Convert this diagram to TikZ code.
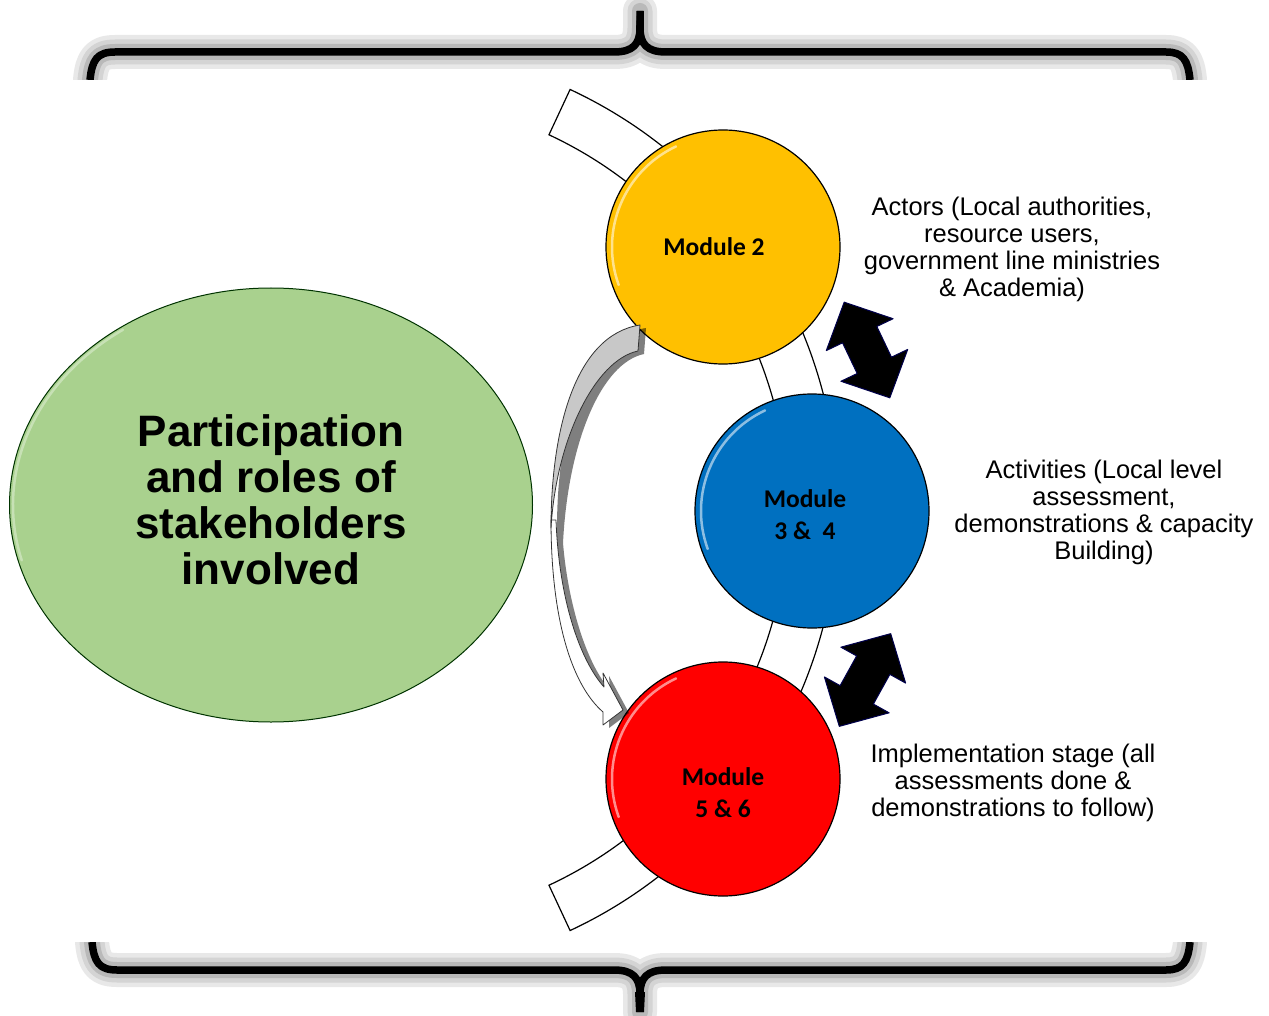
\documentclass[tikz,border=0pt]{standalone}
\usepackage{fontspec}
\setmainfont{Liberation Sans}
\newfontfamily\calibrifont{Carlito}
\usetikzlibrary{calc,shapes.geometric}
\definecolor{myyellow}{RGB}{255,192,0}
\definecolor{myblue}{RGB}{0,112,192}
\definecolor{myred}{RGB}{255,0,0}
\definecolor{mygreen}{RGB}{169,209,142}
\definecolor{arrowgray}{RGB}{200,200,200}
\tikzset{
  module/.style={circle, draw=black, line width=1.2pt, minimum size=234pt, inner sep=0pt},
  modtext/.style={align=center, inner sep=0pt, font=\calibrifont\bfseries\fontsize{25.5}{32}\selectfont},
  sidetext/.style={align=center, inner sep=0pt, font=\fontsize{25.5}{27}\selectfont},
  bandline/.style={draw=black, line width=1.2pt, fill=white},
  gloss/.style={white, opacity=.55, line width=2.5pt, line cap=round},
  dblarrow/.style={fill=black, draw=black!70!blue, line width=1pt, line join=round},
  halo1/.style={draw=gray!18, line width=34pt, line cap=round, line join=round},
  halo2/.style={draw=gray!34, line width=25pt, line cap=round, line join=round},
  halo3/.style={draw=gray!55, line width=16pt, line cap=round, line join=round},
  bracestroke/.style={draw=black, line width=7.5pt, line join=round},
}
\begin{document}
\begin{tikzpicture}[x=1pt, y=-1pt]
\useasboundingbox (0,0) rectangle (1269,1016);
\fill[white] (0,0) rectangle (1269,1016);

% ---------- braces ----------
\def\topbrace{(90,80) .. controls (92,60) and (97,52) .. (115,52) -- (614,52) .. controls (633,52) and (640,44) .. (640,28) -- (640,11)
  (640,28) .. controls (640,44) and (647,52) .. (666,52) -- (1166,52) .. controls (1183,52) and (1188,60) .. (1190,80)}
\def\botbrace{(92,942) .. controls (94,962) and (99,970) .. (117,970) -- (614,970) .. controls (633,970) and (640,978) .. (640,994) -- (640,1012)
  (640,994) .. controls (640,978) and (647,970) .. (666,970) -- (1166,970) .. controls (1183,970) and (1188,962) .. (1190,942)}
\begin{scope}
  \clip (0,0) rectangle (1269,80);
  \draw[halo1] \topbrace;
  \draw[halo2] \topbrace;
  \draw[halo3] \topbrace;
  \draw[bracestroke] \topbrace;
  \fill[black] (636,30) -- (644,30) -- (643,11) -- (637,11) -- cycle;
\end{scope}
\begin{scope}
  \clip (0,942) rectangle (1269,1016);
  \draw[halo1] \botbrace;
  \draw[halo2] \botbrace;
  \draw[halo3] \botbrace;
  \draw[bracestroke] \botbrace;
  \fill[black] (635,992) -- (645,992) -- (644,1012) -- (636,1012) -- cycle;
\end{scope}

% ---------- band arc behind circles ----------
\coordinate (C) at (374,510);
\draw[bandline] ($(C)+(-65:464)$) arc[start angle=-65, end angle=65, radius=464]
  -- ($(C)+(65:414)$) arc[start angle=65, end angle=-65, radius=414] -- cycle;

% ---------- green ellipse ----------
\node (stake) [ellipse, draw=black!80!green, line width=1pt, fill=mygreen,
  minimum width=523pt, minimum height=434pt, inner sep=0pt] at (271,505) {};
\draw[gloss, opacity=.35] ($(stake.center)+(165:258 and 214)$) arc[start angle=165, end angle=235, x radius=258, y radius=214];
\node (stext) [align=center, inner sep=0pt, font=\bfseries\fontsize{44}{46}\selectfont] at (271,500)
  {Participation\\and roles of\\stakeholders\\involved};

% ---------- circles ----------
\node (m2) [module, fill=myyellow] at (723,247) {};
\node (m34) [module, fill=myblue] at (812,511) {};
\node (m56) [module, fill=myred] at (723,779) {};
\foreach \n in {m2,m34,m56}{
  \draw[gloss] ($(\n.center)+(160:111)$) arc[start angle=160, end angle=245, radius=111];
}
\node (t2) [modtext] at (714,247) {Module 2};
\node (t34) [modtext] at (805,515) {Module\\3 \&\ \ 4};
\node (t56) [modtext] at (723,793) {Module\\5 \& 6};

% ---------- curved arrow ----------
\begin{scope}[shift={(6,3)}]
  \fill[black, opacity=.5] (640,325) .. controls (575,335) and (551,430) .. (551,525)
     .. controls (551,620) and (572,685) .. (603,712) -- (603,725) -- (623,710) -- (603,673) -- (604,687)
     .. controls (580,660) and (562,600) .. (557,540)
     .. controls (562,440) and (595,360) .. (638,351) -- cycle;
\end{scope}
\draw[fill=white, draw=black!80, line width=.8pt, line join=round]
  (551,520) .. controls (551,620) and (572,685) .. (603,712) -- (603,725) -- (623,710) -- (603,673) -- (604,687)
  .. controls (580,660) and (559,600) .. (556,520) -- cycle;
\draw[fill=arrowgray, draw=black!80, line width=.8pt, line join=round]
  (640,325) .. controls (575,335) and (551,430) .. (551,528)
  .. controls (556,440) and (595,360) .. (638,351) -- cycle;

% ---------- double arrows ----------
\begin{scope}[shift={(867,350)}, rotate=-64.5]
  \draw[dblarrow] (53,0) -- (17,37) -- (17,19) -- (-17,19) -- (-17,37) -- (-53,0)
    -- (-17,-37) -- (-17,-19) -- (17,-19) -- (17,-37) -- cycle;
\end{scope}
\begin{scope}[shift={(865,680)}, rotate=61]
  \draw[dblarrow] (53,0) -- (17,37) -- (17,19) -- (-17,19) -- (-17,37) -- (-53,0)
    -- (-17,-37) -- (-17,-19) -- (17,-19) -- (17,-37) -- cycle;
\end{scope}

% ---------- side texts ----------
\node (actors) [sidetext] at (1012,249) {Actors (Local authorities,\\resource users,\\government line ministries\\\& Academia)};
\node (activ) [sidetext] at (1104,512) {Activities (Local level\\assessment,\\demonstrations \& capacity\\Building)};
\node (impl) [sidetext] at (1013,783) {Implementation stage (all\\assessments done \&\\demonstrations to follow)};
\end{tikzpicture}
\end{document}
